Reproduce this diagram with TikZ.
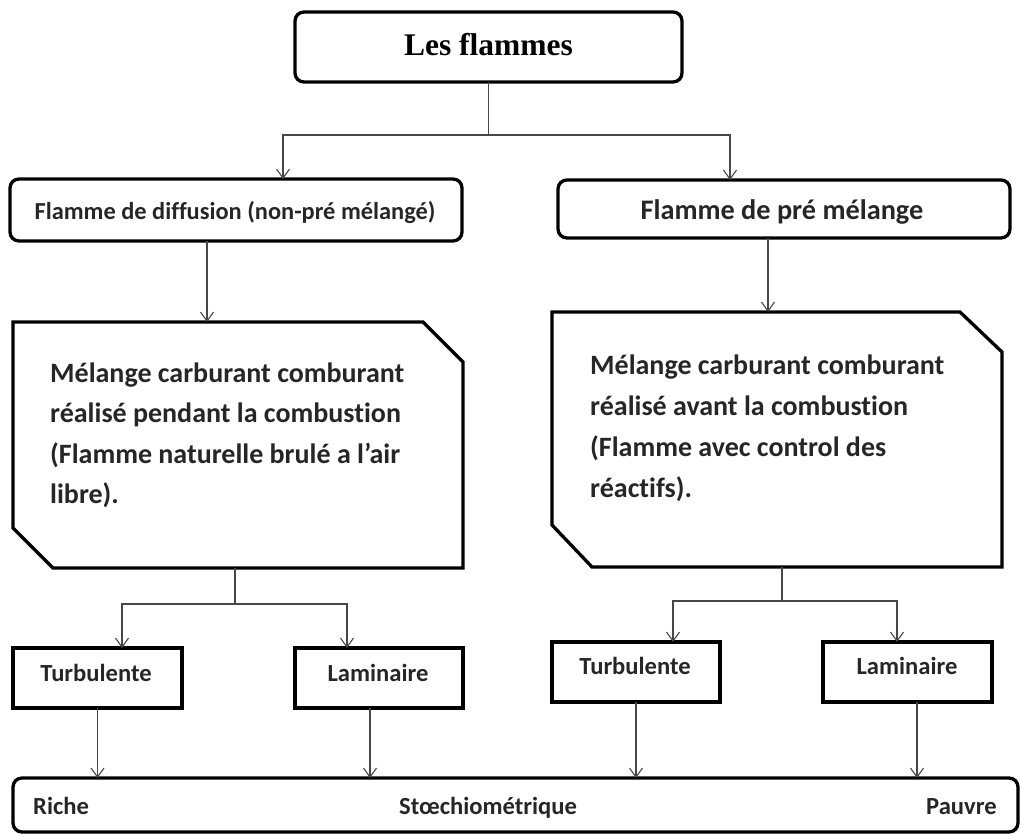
\documentclass[tikz,border=0pt]{standalone}
\usepackage{fontspec}
\setmainfont[Ligatures=NoCommon]{Carlito}
\newfontfamily\serifbold{Liberation Serif}
\usetikzlibrary{arrows.meta,calc}
\begin{document}
\begin{tikzpicture}[x=1pt,y=-1pt,
  box/.style={draw=black, line width=3.3pt, inner sep=0pt, outer sep=0pt},
  rbox/.style={box, rounded corners=9pt},
  plainbox/.style={inner sep=0pt, outer sep=0pt},
  chamf/.style={draw=black, line width=3.3pt, line join=miter},
  conn/.style={draw=black!72, line width=1.2pt},
  arr/.style={conn, -{Straight Barb[length=9pt,width=13pt,line width=1.1pt]}},
  lbl/.style={text=black!85, inner sep=0pt, anchor=base, font=\bfseries\fontsize{24.6}{28}\selectfont},
  bigtxt/.style={text=black!85, anchor=base west, inner sep=0pt,
     font=\bfseries\fontsize{28}{34}\selectfont}
]
\useasboundingbox (0,0) rectangle (1020,834);
% top
\node[rbox, minimum width=387pt, minimum height=70pt] (top) at (488.5,47) {};
\node[anchor=base, inner sep=0pt, font=\serifbold\bfseries\fontsize{31.5}{34}\selectfont] at (488.5,56) {Les flammes};
% second level
\node[rbox, minimum width=452pt, minimum height=62pt] (diff) at (236,210) {};
\node[lbl, font=\bfseries\fontsize{24.4}{28}\selectfont] at (235,220) {Flamme de diffusion (non-pré mélangé)};
\node[rbox, minimum width=452pt, minimum height=58pt] (pre) at (784,209) {};
\node[lbl, font=\bfseries\fontsize{28.3}{32}\selectfont] at (782,220) {Flamme de pré mélange};
% big chamfered boxes
\node[plainbox, minimum width=450pt, minimum height=246pt] (big1) at (238,445) {};
\draw[chamf] (big1.north west) -- ($(big1.north east)+(-40,0)$) -- ($(big1.north east)+(0,40)$)
  -- (big1.south east) -- ($(big1.south west)+(40,0)$) -- ($(big1.south west)+(0,-40)$) -- cycle;
\node[bigtxt] at (50,382) {Mélange carburant comburant};
\node[bigtxt] at (50,422.5) {réalisé pendant la combustion};
\node[bigtxt] at (50,463) {(Flamme naturelle brulé a l’air};
\node[bigtxt] at (50,503.5) {libre).};
\node[plainbox, minimum width=450pt, minimum height=255pt] (big2) at (777,439.5) {};
\draw[chamf] (big2.north west) -- ($(big2.north east)+(-42,0)$) -- ($(big2.north east)+(0,40)$)
  -- (big2.south east) -- ($(big2.south west)+(40,0)$) -- ($(big2.south west)+(0,-42)$) -- cycle;
\node[bigtxt] at (590,374) {Mélange carburant comburant};
\node[bigtxt] at (590,415) {réalisé avant la combustion};
\node[bigtxt] at (590,456) {(Flamme avec control des};
\node[bigtxt] at (590,497) {réactifs).};
% small boxes
\node[box, minimum width=169pt, minimum height=60pt] (turb1) at (97.5,678) {};
\node[lbl] at (96,681) {Turbulente};
\node[box, minimum width=168pt, minimum height=60pt] (lam1) at (379,678) {};
\node[lbl] at (378,681) {Laminaire};
\node[box, minimum width=168pt, minimum height=60pt] (turb2) at (636,672) {};
\node[lbl] at (635,674) {Turbulente};
\node[box, minimum width=169pt, minimum height=60pt] (lam2) at (907.5,672) {};
\node[lbl] at (907,674) {Laminaire};
% bottom box
\node[rbox, minimum width=1005pt, minimum height=54pt] (bot) at (515.5,805) {};
\node[lbl, anchor=base west] at (33,814) {Riche};
\node[lbl, anchor=base west] at (399,814) {Stœchiométrique};
\node[lbl, anchor=base west] at (926,814) {Pauvre};
% connectors
\coordinate (j1) at ($(top.south)+(0,53)$);
\draw[conn] (top.south) -- (j1);
\draw[arr] (j1) -| ($(diff.north)+(47,0)$);
\draw[arr] (j1) -| ($(pre.north)+(-54,0)$);
\draw[arr] ($(diff.south)+(-29,0)$) -- ($(diff.south |- big1.north)+(-29,0)$);
\draw[arr] ($(pre.south)+(-16,0)$) -- ($(pre.south |- big2.north)+(-16,0)$);
\coordinate (j2) at ($(big1.south)+(-3,36)$);
\draw[conn] ($(big1.south)+(-3,0)$) -- (j2);
\draw[arr] (j2) -| ($(turb1.north)+(24.5,0)$);
\draw[arr] (j2) -| ($(lam1.north)+(-32,0)$);
\coordinate (j3) at ($(big2.south)+(5,34)$);
\draw[conn] ($(big2.south)+(5,0)$) -- (j3);
\draw[arr] (j3) -| ($(turb2.north)+(37,0)$);
\draw[arr] (j3) -| ($(lam2.north)+(-10.5,0)$);
\draw[arr] (turb1.south) -- (turb1.south |- bot.north);
\draw[arr] ($(lam1.south)+(-9,0)$) -- ($(lam1.south |- bot.north)+(-9,0)$);
\draw[arr] (turb2.south) -- (turb2.south |- bot.north);
\draw[arr] ($(lam2.south)+(9.5,0)$) -- ($(lam2.south |- bot.north)+(9.5,0)$);
\end{tikzpicture}
\end{document}
